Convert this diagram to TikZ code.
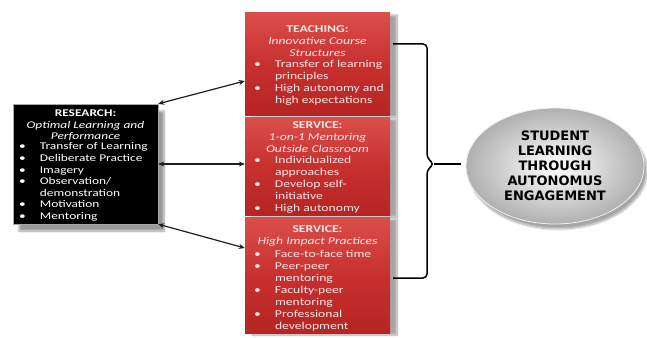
\documentclass[tikz,border=0pt]{standalone}
\usepackage{fontspec}
\setmainfont{Carlito}[FakeStretch=1.3]
\newfontfamily\goalfont{DejaVu Sans}
\usetikzlibrary{arrows.meta,shapes.geometric,shadows.blur}

\definecolor{boxred}{HTML}{C8302E}
\definecolor{boxredtop}{HTML}{DA4F4B}
\definecolor{boxredlow}{HTML}{B52523}
\definecolor{paletext}{HTML}{F7E8E8}
\definecolor{linegray}{HTML}{1E1E1E}

\tikzset{
  redbox/.style={rectangle, inner sep=0pt, minimum width=145pt,
    top color=boxredtop, bottom color=boxredlow, middle color=boxred,
    blur shadow={shadow xshift=7pt, shadow yshift=-2pt, shadow blur steps=12, shadow opacity=35}},
  blackbox/.style={rectangle, inner sep=0pt, minimum width=145pt, minimum height=120pt,
    fill=black, draw=gray!70, line width=0.4pt,
    blur shadow={shadow xshift=6pt, shadow yshift=-7pt, shadow blur steps=12, shadow opacity=40}},
  headtext/.style={inner sep=0pt, align=center, anchor=north,
    font=\fontsize{10.3}{11.6}\selectfont},
  listtext/.style={inner sep=0pt, align=left, anchor=north west,
    font=\fontsize{10.3}{11.6}\selectfont},
  redhead/.style={headtext, text=paletext, font=\fontsize{10.5}{12.2}\selectfont},
  redlist/.style={listtext, text=paletext, font=\fontsize{10.5}{12.0}\selectfont},
  goal/.style={ellipse, minimum width=178pt, minimum height=116pt, inner sep=0pt,
    shading=radial, inner color=white, outer color=gray!62,
    draw=white!88!gray, line width=0.8pt,
    blur shadow={shadow xshift=3pt, shadow yshift=-5pt, shadow blur steps=12, shadow opacity=35},
    align=center, font=\goalfont\bfseries\fontsize{13}{15}\selectfont},
  link/.style={linegray, line width=1.2pt, {Stealth[length=6pt,width=5pt]}-{Stealth[length=6pt,width=5pt]}},
  bracket/.style={black, line width=1.5pt, rounded corners=4pt},
}

\newcommand{\itemrow}[1]{\textbullet & #1\\}

\begin{document}
\begin{tikzpicture}[x=1pt,y=-1pt]
\useasboundingbox (0,0) rectangle (647,337);

% three stacked red panels
\node[redbox, minimum height=102pt] (teach) at (317.5,64) {};
\node[redbox, minimum height=98pt] (svcA) at (317.5,166) {};
\node[redbox, minimum height=116pt] (svcB) at (317.5,275) {};

% black research panel
\node[blackbox] (research) at (85.5,164) {};

% research text
\node[headtext, text=white, font=\fontsize{10.3}{11.2}\selectfont] (researchHead) at (85.5,110)
  {\textbf{RESEARCH:}\\ \textit{Optimal Learning and}\\ \textit{Performance}};
\node[listtext, text=white] (researchList) at (19,141.5) {%
  \begin{tabular}{@{}l@{\hspace{14pt}}l@{}}
  \itemrow{Transfer of Learning}
  \itemrow{Deliberate Practice}
  \itemrow{Imagery}
  \itemrow{Observation/}
  & demonstration\\
  \itemrow{Motivation}
  \itemrow{Mentoring}
  \end{tabular}};

% teaching text
\node[redhead] (teachHead) at (317.5,25.5)
  {\textbf{TEACHING:}\\ \textit{Innovative Course}\\ \textit{Structures}};
\node[redlist] (teachList) at (254,59) {%
  \begin{tabular}{@{}l@{\hspace{14pt}}l@{}}
  \itemrow{Transfer of learning}
  & principles\\
  \itemrow{High autonomy and}
  & high expectations\\
  \end{tabular}};

% mentoring text
\node[redhead] (svcAHead) at (317.5,121)
  {\textbf{SERVICE:}\\ \textit{1-on-1 Mentoring}\\ \textit{Outside Classroom}};
\node[redlist] (svcAList) at (254,155) {%
  \begin{tabular}{@{}l@{\hspace{14pt}}l@{}}
  \itemrow{Individualized}
  & approaches\\
  \itemrow{Develop self-}
  & initiative\\
  \itemrow{High autonomy}
  \end{tabular}};

% high impact text
\node[redhead] (svcBHead) at (317.5,225)
  {\textbf{SERVICE:}\\ \textit{High Impact Practices}};
\node[redlist] (svcBList) at (254,248.5) {%
  \begin{tabular}{@{}l@{\hspace{14pt}}l@{}}
  \itemrow{Face-to-face time}
  \itemrow{Peer-peer}
  & mentoring\\
  \itemrow{Faculty-peer}
  & mentoring\\
  \itemrow{Professional}
  & development\\
  \end{tabular}};

% outcome ellipse
\node[goal] (goalNode) at (555,166)
  {STUDENT\\ LEARNING\\ THROUGH\\ AUTONOMUS\\ ENGAGEMENT};

% research links
\draw[link] (research.north east) -- ([yshift=-17pt]teach.west);
\draw[link] (research.east) -- (research.east -| svcA.west);
\draw[link] (research.south east) -- ([yshift=27pt]svcB.west);

% bracket gathering the three panels
\coordinate (brTop) at (393,44);
\coordinate (brBot) at (393,278);
\coordinate (brTip) at (434,164);
\coordinate (brEnd) at (461,164);
\draw[bracket] (brTop) -| (427,158) -- (brTip) -- (427,170) |- (brBot);
\draw[black, line width=1.5pt] (brTip) -- (brEnd);
\end{tikzpicture}
\end{document}
